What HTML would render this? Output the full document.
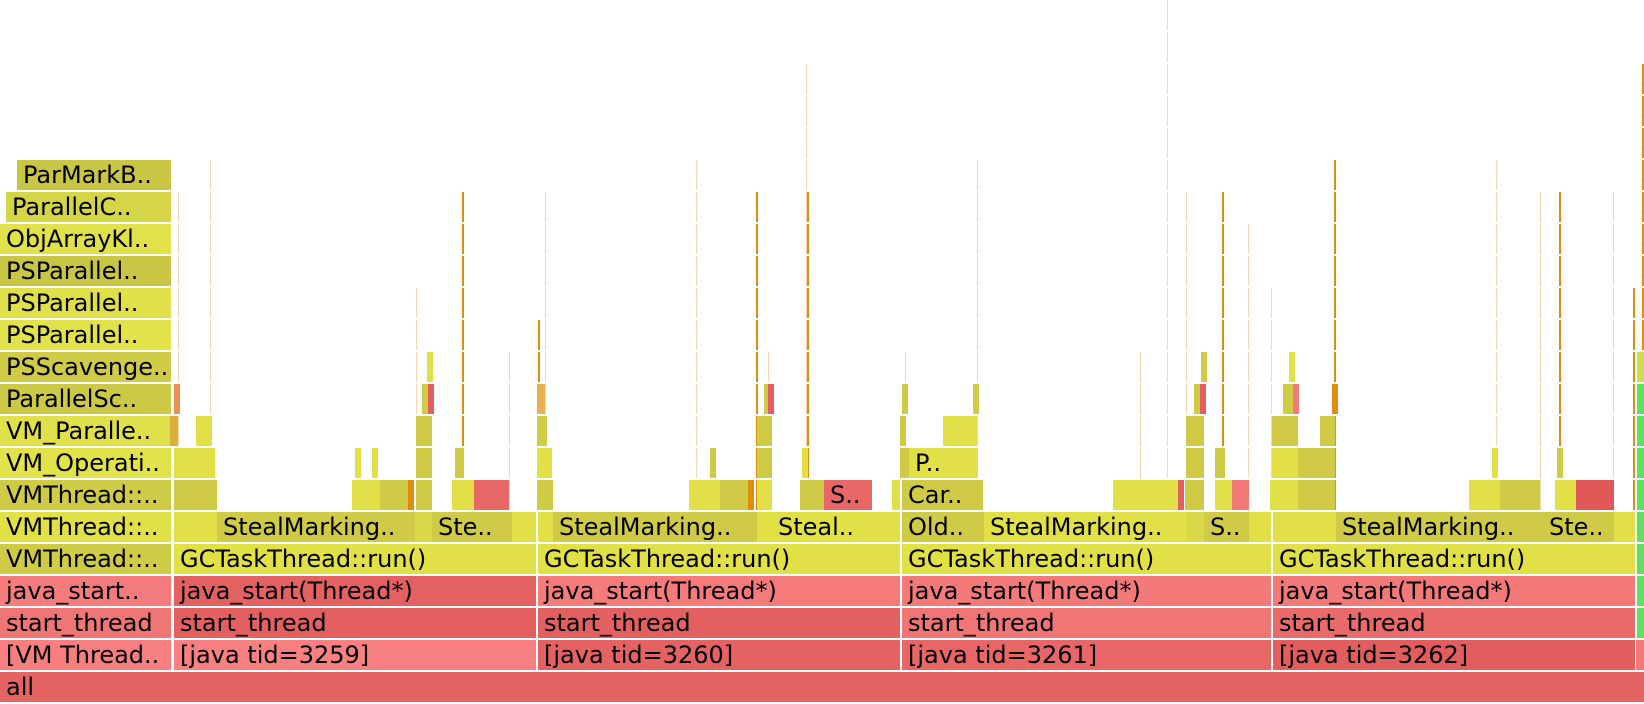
<!DOCTYPE html>
<html><head><meta charset="utf-8">
<style>
html,body{margin:0;padding:0;background:#fff;}
#c{position:relative;width:1644px;height:704px;overflow:hidden;background:#fff;}
.b{position:absolute;height:30px;line-height:31px;font-family:"DejaVu Sans","Liberation Sans",sans-serif;font-size:24px;color:#000;white-space:nowrap;overflow:hidden;padding-left:6px;box-sizing:border-box;}
.l{position:absolute;height:30px;}
</style></head><body><div id="c"></div>
<script>
var c=document.getElementById('c');
function Y(k){return 672-32*k;}
function B(x1,x2,k,col,t){var d=document.createElement('div');d.className='b';d.style.left=x1+'px';d.style.width=(x2-x1)+'px';d.style.top=Y(k)+'px';d.style.background=col;if(t)d.textContent=t;c.appendChild(d);}
var Yel='#e1e147',Olv='#cfcb46',Mid='#d9d84a',Rd='#e35f5f',Rl='#f47a7a',Or='#e08c0c',Lt='#f5d6b4',Gr='#5fe05f';
function L(x,top,col,w){var k0=Math.round((672-top)/32);for(var k=k0;k>=6;k--){var d=document.createElement('div');d.className='l';d.style.left=x+'px';d.style.width=(w||1)+'px';d.style.top=Y(k)+'px';d.style.background=col;c.appendChild(d);}}
[[178,192,Lt],[210,160,Lt],[416,288,Lt],[428,352,Yel,2],[462,192,Or,2],[509,352,Lt],[538,320,Or,2],[545,192,Lt],[696,160,Lt],[756,192,Or,2],[768,352,Lt],[806,64,Lt],[807,192,Or,2],[905,352,Lt],[977,160,Lt],[1140,352,Lt],[1167,0,Lt],[1186,192,Lt],[1201,352,Lt],[1222,192,Or,2],[1248,224,Lt],[1271,288,Lt],[1290,352,Yel,2],[1334,160,Or,2],[1496,160,Lt],[1540,192,Lt],[1559,192,Or,2],[1613,192,Lt],[1633,288,Or,2],[1642,64,Or,2]].forEach(function(a){L(a[0],a[1],a[2],a[3]);});
B(0,1644,0,'#e46363','all');
B(0,171,1,'#f87f7f','[VM Thread..');B(0,171,2,'#f07575','start_thread');B(0,171,3,'#f47c7c','java_start..');
B(0,171,4,Olv,'VMThread::..');B(0,171,5,Yel,'VMThread::..');B(0,171,6,Olv,'VMThread::..');
B(0,171,7,'#e2e24a','VM_Operati..');B(0,171,8,'#e0e04a','VM_Paralle..');B(0,171,9,'#ccc946','ParallelSc..');
B(0,171,10,Olv,'PSScavenge..');B(0,171,11,'#e2e24a','PSParallel..');B(0,171,12,'#e0e04a','PSParallel..');
B(0,171,13,'#c9c645','PSParallel..');B(0,171,14,'#e1e14a','ObjArrayKl..');B(6,171,15,'#d5d548','ParallelC..');
B(17,171,16,'#c9c645','ParMarkB..');
var cols=[[174,536,'3259','#f98080','#e45f5f','#e46161'],[538,900,'3260','#e56262','#e36060','#f57a7a'],[902,1271,'3261','#e86666','#f07575','#f47979'],[1273,1635,'3262','#e25e5e','#e96a6a','#f37878']];
cols.forEach(function(a){B(a[0],a[1],1,a[3],'[java tid='+a[2]+']');B(a[0],a[1],2,a[4],'start_thread');B(a[0],a[1],3,a[5],'java_start(Thread*)');B(a[0],a[1],4,Yel,'GCTaskThread::run()');});
B(1636,1644,1,'#f47a7a');for(var k=2;k<=9;k++)B(1637,1644,k,Gr);B(1637,1644,10,'#c8e050');
B(174,217,5,Yel);B(217,415,5,Olv,'StealMarking..');B(415,432,5,Mid);B(432,512,5,Olv,'Ste..');B(512,536,5,Yel);
B(538,553,5,Yel);B(553,757,5,Olv,'StealMarking..');B(757,772,5,Yel);B(772,878,5,Yel,'Steal..');B(878,900,5,Yel);
B(902,984,5,Olv,'Old..');B(984,1187,5,Yel,'StealMarking..');B(1187,1204,5,Mid);B(1204,1249,5,Olv,'S..');B(1249,1271,5,Yel);
B(1273,1298,5,Yel);B(1298,1336,5,Yel);B(1336,1543,5,Olv,'StealMarking..');B(1543,1614,5,Olv,'Ste..');B(1614,1635,5,Yel);
B(174,217,6,Olv);B(352,380,6,Yel);B(380,408,6,Olv);B(408,411,6,Or);B(416,432,6,Olv);B(452,474,6,Yel);B(474,509,6,'#e86868');B(537,553,6,Olv);
B(689,720,6,Yel);B(720,748,6,Olv);B(748,750,6,Or);B(757,772,6,Yel);B(800,824,6,Olv);B(824,872,6,'#e86868','S..');B(892,900,6,Yel);
B(902,983,6,Olv,'Car..');B(1113,1150,6,Yel);B(1150,1178,6,Yel);B(1178,1182,6,Rd);B(1185,1204,6,Olv);B(1215,1232,6,Yel);B(1232,1249,6,Rl);B(1270,1298,6,Yel);B(1298,1335,6,Olv);
B(1469,1500,6,Yel);B(1500,1540,6,Olv);B(1555,1576,6,Yel);B(1576,1614,6,'#e05858');
B(174,186,7,Yel);B(186,215,7,Yel);B(355,357,7,Yel);B(372,375,7,Yel);B(416,432,7,Olv);B(455,464,7,Olv);B(537,552,7,Yel);B(710,715,7,Olv);B(757,772,7,Olv);B(802,807,7,Yel);
B(900,909,7,Olv);B(909,978,7,Yel,'P..');B(1186,1204,7,Olv);B(1215,1225,7,Olv);B(1272,1298,7,Yel);B(1298,1335,7,Olv);B(1492,1495,7,Yel);B(1557,1562,7,Olv);
B(170,178,8,'#dcae3c');B(196,212,8,Yel);B(416,432,8,Olv);B(537,547,8,Olv);B(757,772,8,Olv);B(900,906,8,Olv);B(943,977,8,Yel);B(1186,1204,8,Olv);B(1272,1298,8,Olv);B(1320,1335,8,Olv);
B(174,178,9,'#ee9050');B(422,428,9,Olv);B(428,432,9,Rd);B(537,545,9,'#e8b050');B(764,768,9,Olv);B(768,772,9,Rd);B(902,906,9,Olv);B(973,977,9,Olv);B(1194,1200,9,Olv);B(1200,1204,9,Rd);B(1283,1293,9,Olv);B(1293,1298,9,Rl);B(1332,1335,9,Or);
B(427,431,10,Yel);B(1289,1293,10,Yel);B(1201,1204,10,Olv);
</script></body></html>
